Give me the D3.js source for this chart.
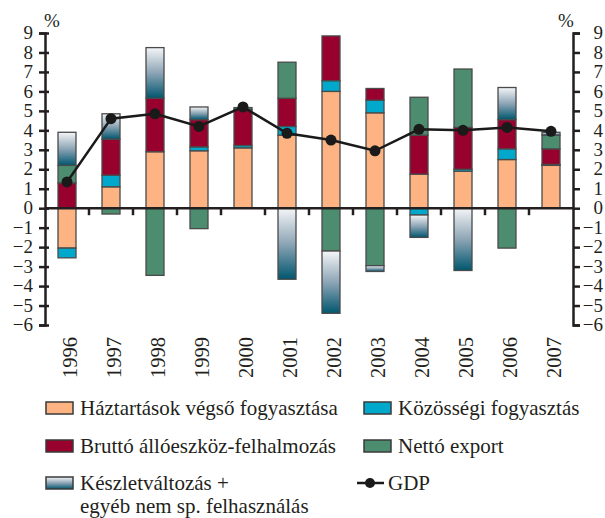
<!DOCTYPE html>
<html>
<head>
<meta charset="utf-8">
<script src="https://cdn.jsdelivr.net/npm/d3@7"></script>
<style>
  html, body { margin: 0; padding: 0; background: #fff; }
  svg { display: block; }
  text { font-family: "Liberation Serif", "Times New Roman", serif; fill: #231f20; }
</style>
</head>
<body>
<svg id="chart" width="605" height="518"></svg>
<script>
// GDP growth and contributions of its components (percentage points)
const years = ["1996", "1997", "1998", "1999", "2000", "2001", "2002", "2003", "2004", "2005", "2006", "2007"];
const haztartas = [-2.05, 1.1, 2.9, 2.95, 3.1, 3.75, 6.0, 4.9, 1.75, 1.9, 2.5, 2.2];
const kozossegi = [-0.5, 0.6, 0, 0.2, 0.12, 0.45, 0.55, 0.65, -0.35, 0.1, 0.55, 0.05];
const brutto = [1.3, 1.85, 2.75, 1.4, 1.85, 1.45, 2.3, 0.6, 2.0, 2.15, 1.5, 0.8];
const netto = [0.9, -0.3, -3.45, -1.05, 0.1, 1.85, -2.2, -2.95, 1.95, 3.0, -2.05, 0.7];
const keszlet = [1.7, 1.3, 2.6, 0.65, 0, -3.65, -3.2, -0.3, -1.15, -3.2, 1.65, 0.15];
const gdp = [1.35, 4.6, 4.85, 4.2, 5.2, 3.85, 3.5, 2.95, 4.05, 4.0, 4.15, 3.95];
const yTicks = [9, 8, 7, 6, 5, 4, 3, 2, 1, 0, -1, -2, -3, -4, -5, -6];

const seriesDefs = [
  { key: "haztartas", label: "Háztartások végső fogyasztása", values: haztartas, fill: "#fdb382" },
  { key: "kozossegi", label: "Közösségi fogyasztás", values: kozossegi, fill: "#00a8cb" },
  { key: "brutto", label: "Bruttó állóeszköz-felhalmozás", values: brutto, fill: "#98002e" },
  { key: "netto", label: "Nettó export", values: netto, fill: "#4c8d6f" },
  { key: "keszlet", label: ["Készletváltozás +", "egyéb nem sp. felhasználás"], values: keszlet, fill: "url(#keszletGrad)" }
];

const svg = d3.select("#chart");
const plotLeft = 45, plotRight = 573, plotTop = 33, plotBottom = 325;

const defs = svg.append("defs");
const grad = defs.append("linearGradient")
  .attr("id", "keszletGrad").attr("x1", 0).attr("y1", 0).attr("x2", 0).attr("y2", 1);
grad.append("stop").attr("offset", "0%").attr("stop-color", "#f4f6f8");
grad.append("stop").attr("offset", "50%").attr("stop-color", "#8da5b5");
grad.append("stop").attr("offset", "100%").attr("stop-color", "#00566f");

const x = d3.scaleBand().domain(years).range([plotLeft, plotRight]).paddingInner(0).paddingOuter(0);
const y = d3.scaleLinear().domain([-6, 9]).range([plotBottom, plotTop]);
const barW = 18;

// stacked rows
const rows = years.map((yr, i) => {
  const r = { year: yr };
  seriesDefs.forEach(s => r[s.key] = s.values[i]);
  return r;
});
const stack = d3.stack().keys(seriesDefs.map(s => s.key)).offset(d3.stackOffsetDiverging);
const stacked = stack(rows);

const barsG = svg.append("g");
stacked.forEach((layer, li) => {
  barsG.selectAll(null)
    .data(layer.filter(d => Math.abs(d[1] - d[0]) > 1e-9))
    .join("rect")
    .attr("x", d => x(d.data.year) + x.bandwidth() / 2 - barW / 2)
    .attr("width", barW)
    .attr("y", d => y(Math.max(d[0], d[1])))
    .attr("height", d => Math.abs(y(d[0]) - y(d[1])))
    .attr("fill", seriesDefs[li].fill)
    .attr("stroke", "#4a4a4a")
    .attr("stroke-width", 1.3);
});

// zero line with category separators
const axisColor = "#231f20";
svg.append("line")
  .attr("x1", plotLeft).attr("x2", plotRight).attr("y1", y(0)).attr("y2", y(0))
  .attr("stroke", axisColor).attr("stroke-width", 2.5);
svg.append("g").selectAll("line")
  .data(years.slice(1))
  .join("line")
  .attr("x1", d => x(d)).attr("x2", d => x(d))
  .attr("y1", y(0)).attr("y2", y(0) + 7)
  .attr("stroke", axisColor).attr("stroke-width", 2.5);

// vertical axes
const fmt = d => d < 0 ? "\u2212" + Math.abs(d) : d;
const leftAxis = d3.axisLeft(y).tickValues(yTicks).tickSize(6).tickPadding(6).tickFormat(fmt);
const rightAxis = d3.axisRight(y).tickValues(yTicks).tickSize(7).tickPadding(9).tickFormat(fmt);

function styleAxis(g) {
  g.select(".domain").attr("stroke", axisColor).attr("stroke-width", 2.5);
  g.selectAll(".tick line").attr("stroke", axisColor).attr("stroke-width", 2.5);
  g.selectAll(".tick text")
    .style("font-family", '"Liberation Serif", "Times New Roman", serif')
    .style("font-size", "19px").attr("fill", axisColor).attr("dy", "0.3em");
}
const gl = svg.append("g").attr("transform", `translate(${plotLeft},0)`).call(leftAxis).call(styleAxis);
gl.selectAll(".tick line").attr("x1", 4);
const gr = svg.append("g").attr("transform", `translate(${plotRight},0)`).call(rightAxis).call(styleAxis);
gr.selectAll(".tick text").attr("text-anchor", "end").attr("x", 30);

// unit labels
svg.append("text").attr("x", 52).attr("y", 27).attr("text-anchor", "middle")
  .style("font-size", "19px").text("%");
svg.append("text").attr("x", 566).attr("y", 27).attr("text-anchor", "middle")
  .style("font-size", "19px").text("%");

// year labels
svg.append("g").selectAll("text")
  .data(years)
  .join("text")
  .attr("transform", d => `translate(${x(d) + x.bandwidth() / 2 + 10},337) rotate(-90)`)
  .attr("text-anchor", "end")
  .style("font-size", "20.5px")
  .text(d => d);

// GDP line
const cx = d => x(d) + x.bandwidth() / 2;
svg.append("path")
  .datum(years)
  .attr("d", d3.line().x(d => cx(d)).y((d, i) => y(gdp[i])))
  .attr("fill", "none").attr("stroke", "#1a1a1a").attr("stroke-width", 2.5);
svg.append("g").selectAll("circle")
  .data(years)
  .join("circle")
  .attr("cx", d => cx(d)).attr("cy", (d, i) => y(gdp[i]))
  .attr("r", 5.5).attr("fill", "#1a1a1a");

// legend
const legendItems = [
  { s: seriesDefs[0], x: 46, y: 408 },
  { s: seriesDefs[1], x: 364, y: 408 },
  { s: seriesDefs[2], x: 46, y: 446 },
  { s: seriesDefs[3], x: 364, y: 446 },
  { s: seriesDefs[4], x: 46, y: 483 }
];
const lg = svg.append("g");
legendItems.forEach(it => {
  lg.append("rect").attr("x", it.x).attr("y", it.y - 6).attr("width", 27).attr("height", 12)
    .attr("fill", it.s.fill).attr("stroke", "#3a3a3a").attr("stroke-width", 1.5);
  const lines = Array.isArray(it.s.label) ? it.s.label : [it.s.label];
  lines.forEach((t, k) => {
    lg.append("text").attr("x", it.x + 34).attr("y", it.y + 7 + k * 23)
      .style("font-size", "21px").text(t);
  });
});
// GDP legend entry
lg.append("line").attr("x1", 357).attr("x2", 384).attr("y1", 483).attr("y2", 483)
  .attr("stroke", "#1a1a1a").attr("stroke-width", 2.5);
lg.append("circle").attr("cx", 370).attr("cy", 483).attr("r", 5).attr("fill", "#1a1a1a");
lg.append("text").attr("x", 388).attr("y", 490).style("font-size", "21px").text("GDP");
</script>
</body>
</html>
